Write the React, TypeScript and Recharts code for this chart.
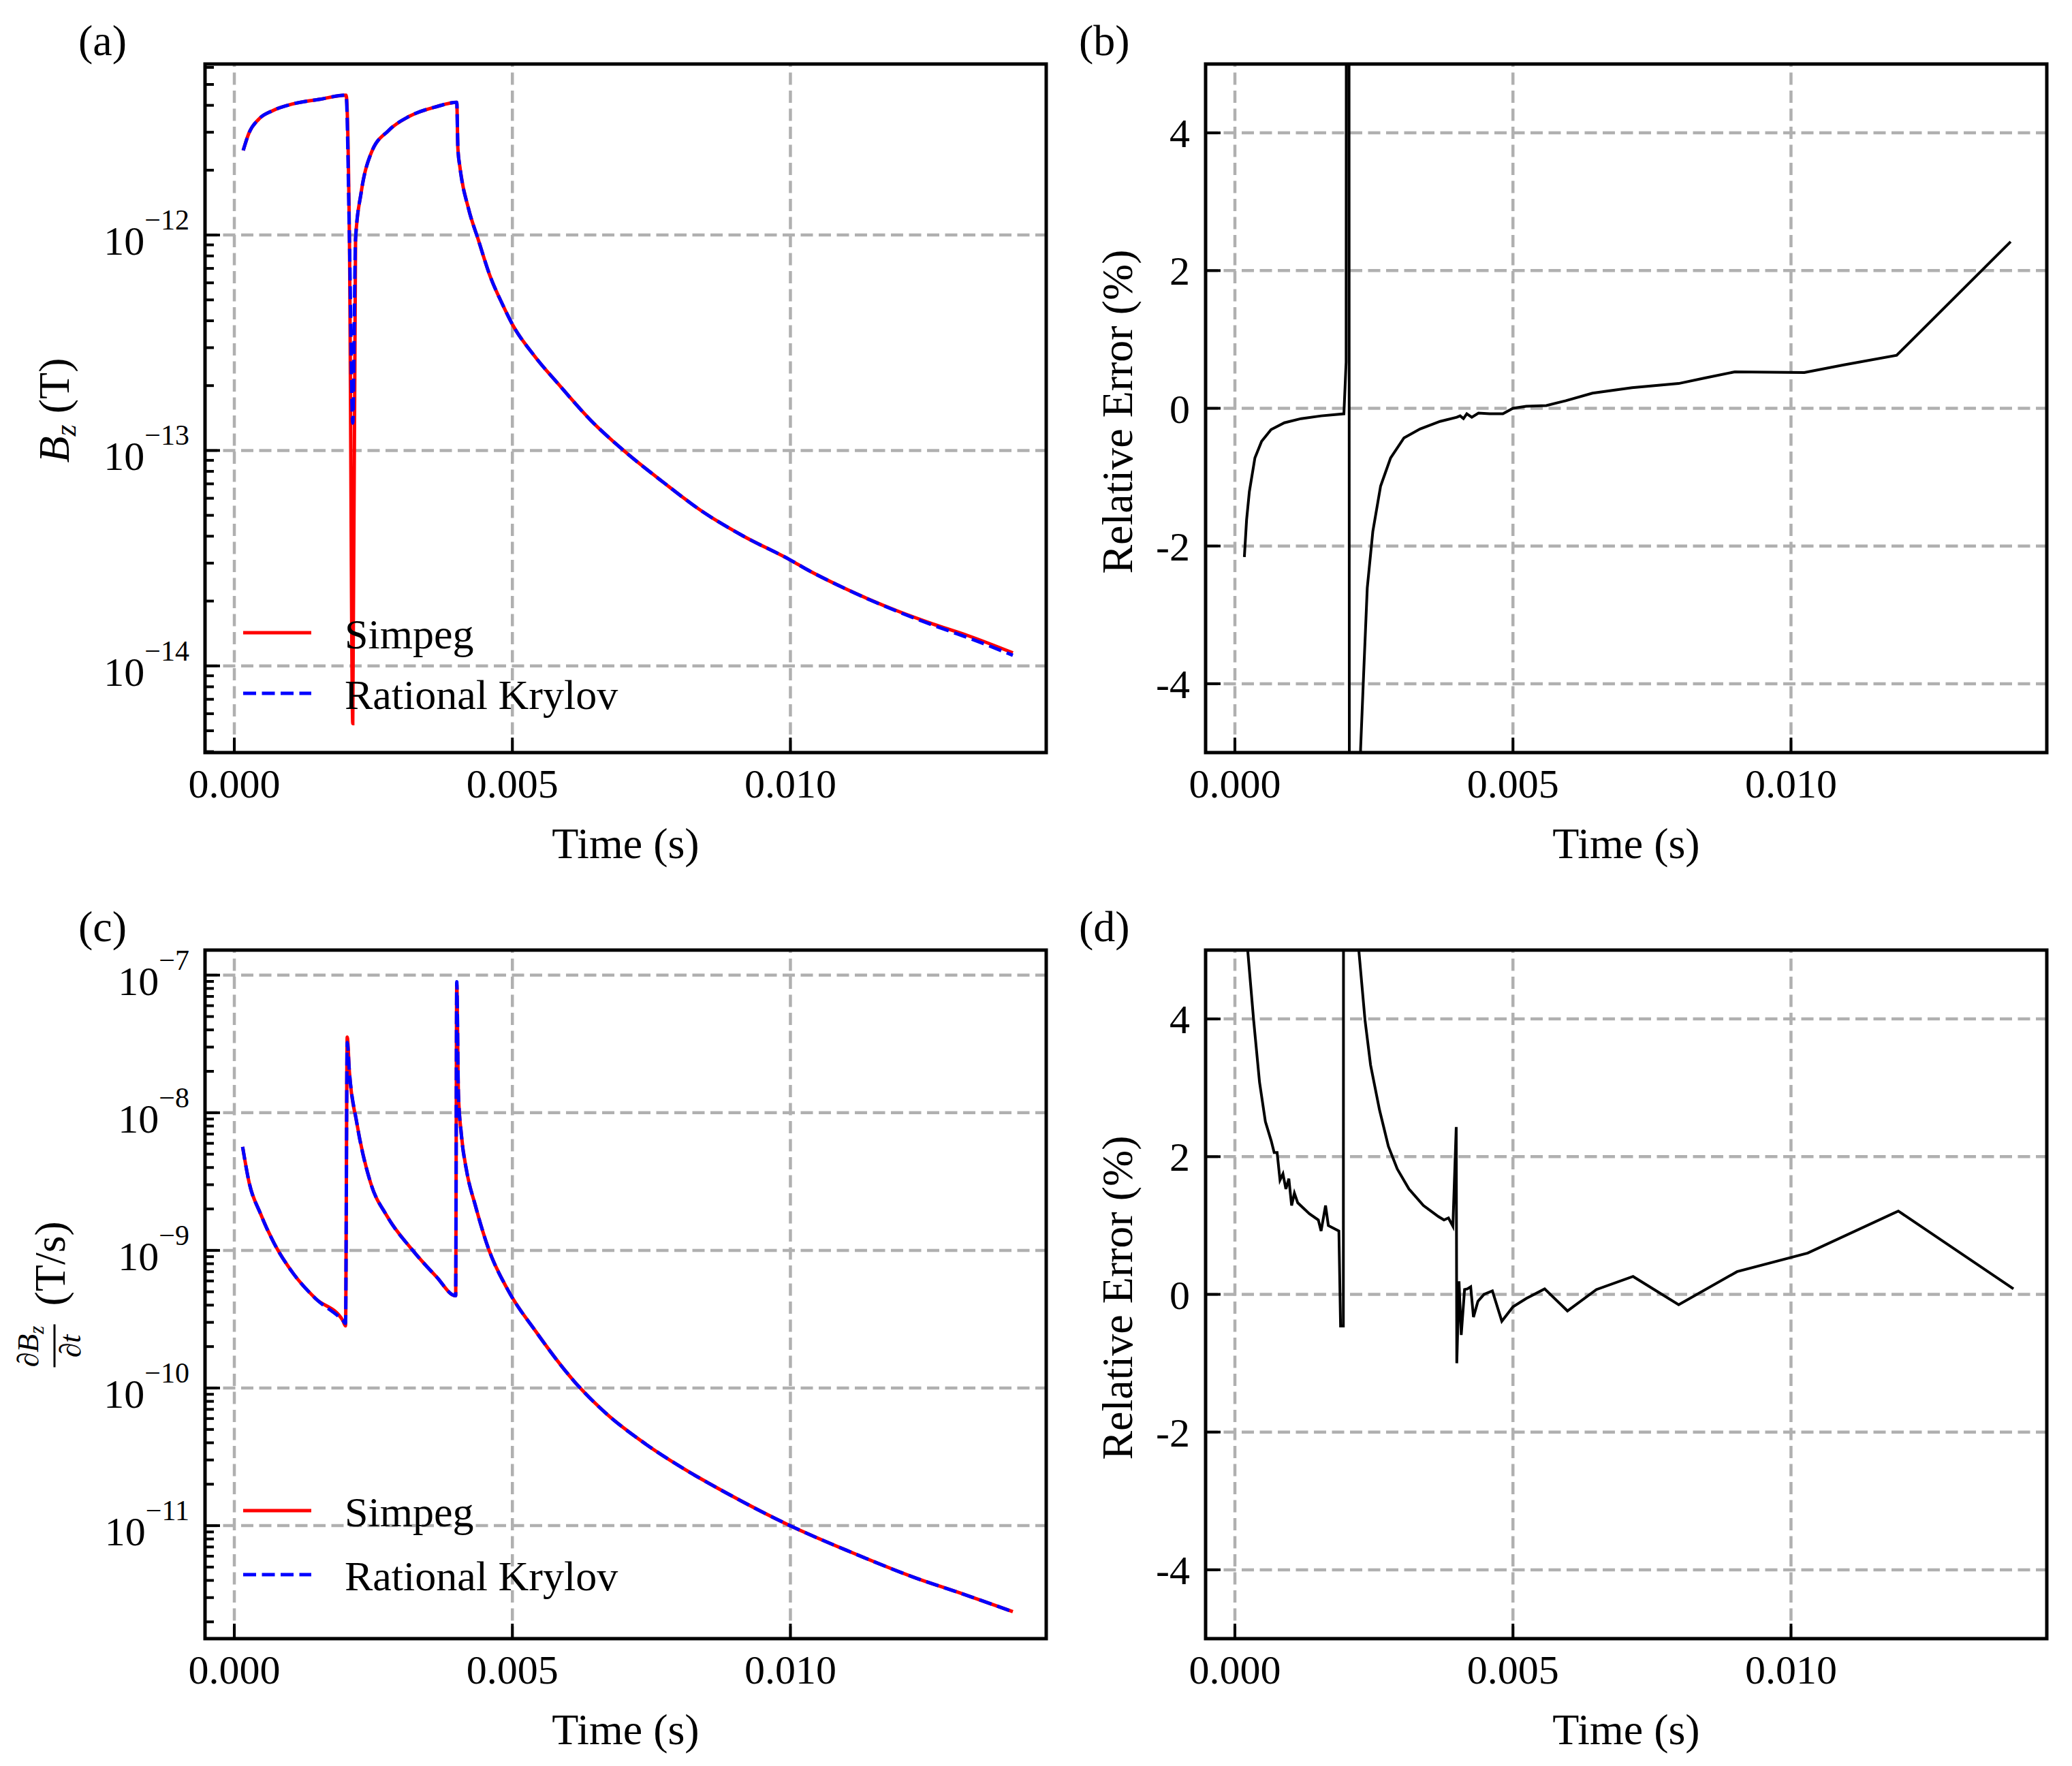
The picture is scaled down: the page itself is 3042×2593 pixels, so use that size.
import React from "react";
import { LineChart, Line, XAxis, YAxis, ReferenceLine } from "recharts";

// ---- values ----
const timeTicks = [0, 0.005, 0.01];
const timeDomain = [-0.000527, 0.0146];

// (a) Bz
const bzTime = [0.00016, 0.00026, 0.00044, 0.00069, 0.00105, 0.00154, 0.00201, 0.00207, 0.00213, 0.00218, 0.00228, 0.00246, 0.00277, 0.00314, 0.00363, 0.004, 0.00402, 0.00406, 0.00421, 0.00439, 0.0046, 0.00482, 0.005, 0.0054, 0.00583, 0.00641, 0.00699, 0.00771, 0.00843, 0.00915, 0.01, 0.01031, 0.01096, 0.01197, 0.01255, 0.0132, 0.014];
const bzSimpeg = [2.47e-12, 2.96e-12, 3.45e-12, 3.78e-12, 4.06e-12, 4.27e-12, 4.46e-12, 9.6e-13, 5.4e-15, 9.6e-13, 1.57e-12, 2.4e-12, 3.05e-12, 3.55e-12, 3.94e-12, 4.13e-12, 2.53e-12, 2.04e-12, 1.33e-12, 9.46e-13, 6.44e-13, 4.78e-13, 3.85e-13, 2.74e-13, 2.03e-13, 1.38e-13, 1.005e-13, 7.13e-14, 5.18e-14, 4.01e-14, 3.1e-14, 2.79e-14, 2.3e-14, 1.78e-14, 1.57e-14, 1.38e-14, 1.15e-14];
const bzKrylov = [2.47e-12, 2.96e-12, 3.45e-12, 3.78e-12, 4.06e-12, 4.27e-12, 4.46e-12, 9.6e-13, 1.34e-13, 9.6e-13, 1.57e-12, 2.4e-12, 3.05e-12, 3.55e-12, 3.94e-12, 4.13e-12, 2.53e-12, 2.04e-12, 1.33e-12, 9.46e-13, 6.44e-13, 4.78e-13, 3.85e-13, 2.74e-13, 2.03e-13, 1.38e-13, 1.005e-13, 7.13e-14, 5.18e-14, 4.01e-14, 3.1e-14, 2.79e-14, 2.3e-14, 1.77e-14, 1.55e-14, 1.35e-14, 1.12e-14];
const bzMajor = [1e-14, 1e-13, 1e-12];
const bzDomain = [3.96e-15, 6.22e-12];

// (b) relative error of Bz (%)
const errBzTime = [0.00017, 0.00021, 0.00026, 0.00036, 0.00048, 0.00065, 0.00089, 0.00119, 0.00155, 0.00196, 0.002, 0.00203, 0.00208, 0.00218, 0.00226, 0.00232, 0.00238, 0.00248, 0.00262, 0.0028, 0.00304, 0.00333, 0.00369, 0.00399, 0.00405, 0.00411, 0.00417, 0.00426, 0.00438, 0.00458, 0.00482, 0.005, 0.00524, 0.0056, 0.00595, 0.00643, 0.00714, 0.00798, 0.00845, 0.00899, 0.01024, 0.01095, 0.0119, 0.01395];
const errBz = [-2.16, -1.62, -1.21, -0.72, -0.48, -0.31, -0.21, -0.15, -0.11, -0.08, 0.67, 50, -50, -12, -4.95, -3.76, -2.61, -1.79, -1.13, -0.72, -0.43, -0.3, -0.19, -0.13, -0.11, -0.15, -0.08, -0.13, -0.07, -0.08, -0.08, 0.0, 0.03, 0.04, 0.11, 0.22, 0.3, 0.36, 0.44, 0.53, 0.52, 0.63, 0.77, 2.42];

// (c) dBz/dt
const dbzTime = [0.000149, 0.000267, 0.000465, 0.000713, 0.00106, 0.001455, 0.00195, 0.002, 0.00203, 0.00207, 0.0022, 0.00245, 0.00274, 0.00319, 0.00363, 0.00398, 0.004, 0.00403, 0.00408, 0.00418, 0.00433, 0.00457, 0.00492, 0.00542, 0.00611, 0.0067, 0.0074, 0.00809, 0.00888, 0.00997, 0.01106, 0.01225, 0.01304, 0.014];
const dbzSimpeg = [5.65e-9, 3.1e-9, 1.87e-9, 1.13e-9, 6.79e-10, 4.49e-10, 3.1e-10, 2.83e-10, 3.55e-8, 1.96e-8, 8.55e-9, 3.1e-9, 1.79e-9, 1.02e-9, 6.46e-10, 4.68e-10, 8.6e-8, 1.36e-8, 7.11e-9, 3.73e-9, 2.15e-9, 1.03e-9, 5.15e-10, 2.58e-10, 1.12e-10, 6.46e-11, 3.91e-11, 2.58e-11, 1.7e-11, 1.01e-11, 6.49e-12, 4.17e-12, 3.25e-12, 2.37e-12];
const dbzKrylov = [5.65e-9, 3.1e-9, 1.87e-9, 1.13e-9, 6.79e-10, 4.49e-10, 3.1e-10, 2.95e-10, 3.24e-8, 1.96e-8, 8.55e-9, 3.1e-9, 1.79e-9, 1.02e-9, 6.46e-10, 4.68e-10, 8.95e-8, 1.36e-8, 7.11e-9, 3.73e-9, 2.15e-9, 1.03e-9, 5.15e-10, 2.58e-10, 1.12e-10, 6.46e-11, 3.91e-11, 2.58e-11, 1.7e-11, 1.01e-11, 6.49e-12, 4.17e-12, 3.25e-12, 2.37e-12];
const dbzMajor = [1e-11, 1e-10, 1e-9, 1e-8, 1e-7];
const dbzDomain = [1.51e-12, 1.52e-7];

// (d) relative error of dBz/dt (%)
const errDbzTime = [0.00016, 0.000232, 0.000337, 0.000443, 0.000548, 0.000653, 0.000706, 0.000759, 0.000811, 0.000864, 0.000917, 0.00097, 0.00102, 0.00107, 0.00113, 0.00134, 0.0015, 0.00155, 0.00163, 0.00168, 0.00187, 0.0019, 0.00195, 0.00197, 0.0021, 0.00223, 0.00234, 0.00244, 0.0026, 0.00276, 0.00292, 0.00313, 0.00339, 0.00366, 0.00376, 0.00384, 0.00392, 0.00398, 0.00399, 0.00403, 0.00407, 0.00413, 0.00418, 0.00424, 0.00429, 0.00437, 0.00448, 0.00463, 0.0048, 0.005, 0.00524, 0.00557, 0.00598, 0.0065, 0.00716, 0.00798, 0.00903, 0.0103, 0.01193, 0.014];
const errDbz = [6.6, 4.98, 3.98, 3.08, 2.51, 2.23, 2.06, 2.06, 1.66, 1.75, 1.53, 1.68, 1.29, 1.47, 1.33, 1.17, 1.08, 0.92, 1.29, 1.0, 0.92, -0.46, -0.46, 40, 14, 4.98, 3.98, 3.33, 2.68, 2.15, 1.82, 1.53, 1.29, 1.13, 1.08, 1.11, 0.99, 2.43, -1.0, 0.19, -0.59, 0.07, 0.08, 0.11, -0.33, -0.1, 0.0, 0.05, -0.39, -0.18, -0.06, 0.08, -0.24, 0.07, 0.26, -0.15, 0.33, 0.6, 1.21, 0.08];

const errTicks = [-4, -2, 0, 2, 4];
const errDomain = [-5, 5];

// ---- layout ----
const FONT = "'Liberation Serif', 'Times New Roman', serif";
const PW = 1235;
const PH = 1011;
const ML = 300; // plot left inside each chart
const MT = 100; // plot top inside each chart
const CW = ML + PW + 30;
const CH = MT + PH + 180;
const PB = MT + PH;

const zip = (ts: number[], vs: number[]) => ts.map((t, i) => ({ t, v: vs[i] }));

function logTicks(lo: number, hi: number) {
  const out: number[] = [];
  for (let e = Math.floor(Math.log10(lo)); e <= Math.ceil(Math.log10(hi)); e++) {
    for (let m = 1; m <= 9; m++) {
      const v = m * Math.pow(10, e);
      if (v >= lo && v <= hi) out.push(v);
    }
  }
  return out;
}

function XTick(props: any) {
  const { x, payload } = props;
  return (
    <g>
      <line x1={x} x2={x} y1={PB} y2={PB - 22} stroke="#000" strokeWidth={4} />
      <text x={x} y={PB + 66} textAnchor="middle" fontFamily={FONT} fontSize={60} fill="#000">
        {payload.value.toFixed(3)}
      </text>
    </g>
  );
}

function LogTick(props: any) {
  const { y, payload } = props;
  const e = Math.log10(payload.value);
  const major = Math.abs(e - Math.round(e)) < 1e-6;
  return (
    <g>
      <line x1={ML} x2={ML + (major ? 22 : 13)} y1={y} y2={y} stroke="#000" strokeWidth={4} />
      {major && (
        <text x={ML - 23} y={y + 29} textAnchor="end" fontFamily={FONT} fill="#000">
          <tspan fontSize={60}>10</tspan>
          <tspan fontSize={42} dy={-37}>{"\u2212" + Math.abs(Math.round(e))}</tspan>
        </text>
      )}
    </g>
  );
}

function LinTick(props: any) {
  const { y, payload } = props;
  return (
    <g>
      <line x1={ML} x2={ML + 22} y1={y} y2={y} stroke="#000" strokeWidth={4} />
      <text x={ML - 23} y={y + 21} textAnchor="end" fontFamily={FONT} fontSize={60} fill="#000">
        {String(payload.value)}
      </text>
    </g>
  );
}

type Series = { data: { t: number; v: number }[]; color: string; dash?: string; width: number; name: string };

function Legend2({ items, dy }: { items: Series[]; dy: number[] }) {
  return (
    <g fontFamily={FONT} fontSize={62} fill="#000">
      {items.map((s, i) => (
        <g key={s.name}>
          <line x1={ML + 56} x2={ML + 156} y1={MT + dy[i]} y2={MT + dy[i]} stroke={s.color} strokeWidth={5} strokeDasharray={s.dash} />
          <text x={ML + 205} y={MT + dy[i] + 23}>{s.name}</text>
        </g>
      ))}
    </g>
  );
}

function Panel(props: {
  left: number;
  top: number;
  tag: string;
  log: boolean;
  domain: number[];
  ticks: number[];
  grid: number[];
  series: Series[];
  curve: "monotone" | "linear";
  yLabel: React.ReactNode;
  legend?: number[];
}) {
  const { left, top, tag, log, domain, ticks, grid, series, curve, yLabel, legend } = props;
  const decor = () => (
    <g>
      <rect x={ML} y={MT} width={PW} height={PH} fill="none" stroke="#000" strokeWidth={5} />
      <text x={114} y={87} fontFamily={FONT} fontSize={64} fill="#000">{tag}</text>
      {yLabel}
      {legend && <Legend2 items={series} dy={legend} />}
    </g>
  );
  return (
    <div style={{ position: "absolute", left: left - ML, top: top - MT }}>
      <LineChart width={CW} height={CH} margin={{ top: MT, right: 30, bottom: 30, left: 100 }}>
        <XAxis
          dataKey="t"
          type="number"
          domain={timeDomain}
          ticks={timeTicks}
          allowDataOverflow
          height={150}
          axisLine={false}
          tickLine={false}
          tickSize={0}
          interval={0}
          tick={XTick}
          label={{
            content: () => (
              <text x={ML + PW / 2} y={PB + 155} textAnchor="middle" fontFamily={FONT} fontSize={64} fill="#000">
                Time (s)
              </text>
            ),
          }}
        />
        <YAxis
          type="number"
          scale={log ? "log" : "linear"}
          domain={domain}
          ticks={ticks}
          allowDataOverflow
          width={200}
          axisLine={false}
          tickLine={false}
          tickSize={0}
          interval={0}
          tick={log ? LogTick : LinTick}
          label={{ content: decor }}
        />
        {grid.map((g) => (
          <ReferenceLine key={"y" + g} y={g} stroke="#b0b0b0" strokeWidth={4.5} strokeDasharray="18 8.5" />
        ))}
        {timeTicks.map((g) => (
          <ReferenceLine key={"x" + g} x={g} stroke="#b0b0b0" strokeWidth={4.5} strokeDasharray="18 8.5" />
        ))}
        {series.map((s) => (
          <Line
            key={s.name}
            data={s.data}
            dataKey="v"
            name={s.name}
            type={curve}
            stroke={s.color}
            strokeWidth={s.width}
            strokeDasharray={s.dash}
            dot={false}
            activeDot={false}
            isAnimationActive={false}
          />
        ))}
      </LineChart>
    </div>
  );
}

const rotated = (x: number, dyc: number, children: React.ReactNode) => (
  <text
    transform={`translate(${x}, ${MT + PH / 2 + dyc}) rotate(-90)`}
    textAnchor="middle"
    fontFamily={FONT}
    fontSize={64}
    fill="#000"
  >
    {children}
  </text>
);

export default function App() {
  const bzLabel = rotated(
    100,
    3,
    <>
      <tspan fontStyle="italic">B</tspan>
      <tspan fontStyle="italic" fontSize={44} dy={10}>z</tspan>
      <tspan dy={-10}>{"\u00a0(T)"}</tspan>
    </>
  );
  const errLabel = rotated(192, 5, "Relative Error (%)");
  const dbzLabel = (
    <g transform={`translate(0, ${MT + PH / 2 + 107}) rotate(-90)`} fontFamily={FONT} fill="#000">
      <text x={0} y={55} fontSize={44}>
        <tspan>{"\u2202"}</tspan>
        <tspan fontStyle="italic">B</tspan>
        <tspan fontStyle="italic" fontSize={31} dy={8}>z</tspan>
      </text>
      <line x1={0} x2={63} y1={79} y2={79} stroke="#000" strokeWidth={3} />
      <text x={31} y={117} fontSize={44} textAnchor="middle">
        {"\u2202"}
        <tspan fontStyle="italic">t</tspan>
      </text>
      <text x={90} y={94} fontSize={64}>(T/s)</text>
    </g>
  );

  const bzSeries: Series[] = [
    { data: zip(bzTime, bzSimpeg), color: "#ff0000", width: 5, name: "Simpeg" },
    { data: zip(bzTime, bzKrylov), color: "#0000ff", width: 5, dash: "19 8.5", name: "Rational Krylov" },
  ];
  const dbzSeries: Series[] = [
    { data: zip(dbzTime, dbzSimpeg), color: "#ff0000", width: 5, name: "Simpeg" },
    { data: zip(dbzTime, dbzKrylov), color: "#0000ff", width: 5, dash: "19 8.5", name: "Rational Krylov" },
  ];

  return (
    <div
      style={{
        position: "absolute",
        left: 0,
        top: 0,
        width: 3042,
        height: 2593,
        background: "#fff",
        overflow: "hidden",
      }}
    >
      <Panel
        left={301}
        top={94}
        tag="(a)"
        log
        domain={bzDomain}
        ticks={logTicks(bzDomain[0], bzDomain[1])}
        grid={bzMajor}
        series={bzSeries}
        curve="monotone"
        yLabel={bzLabel}
        legend={[835, 924]}
      />
      <Panel
        left={1770}
        top={94}
        tag="(b)"
        log={false}
        domain={errDomain}
        ticks={errTicks}
        grid={errTicks}
        series={[{ data: zip(errBzTime, errBz), color: "#000", width: 4, name: "err" }]}
        curve="linear"
        yLabel={errLabel}
      />
      <Panel
        left={301}
        top={1395}
        tag="(c)"
        log
        domain={dbzDomain}
        ticks={logTicks(dbzDomain[0], dbzDomain[1])}
        grid={dbzMajor}
        series={dbzSeries}
        curve="monotone"
        yLabel={dbzLabel}
        legend={[823, 917]}
      />
      <Panel
        left={1770}
        top={1395}
        tag="(d)"
        log={false}
        domain={errDomain}
        ticks={errTicks}
        grid={errTicks}
        series={[{ data: zip(errDbzTime, errDbz), color: "#000", width: 4, name: "err" }]}
        curve="linear"
        yLabel={errLabel}
      />
    </div>
  );
}
